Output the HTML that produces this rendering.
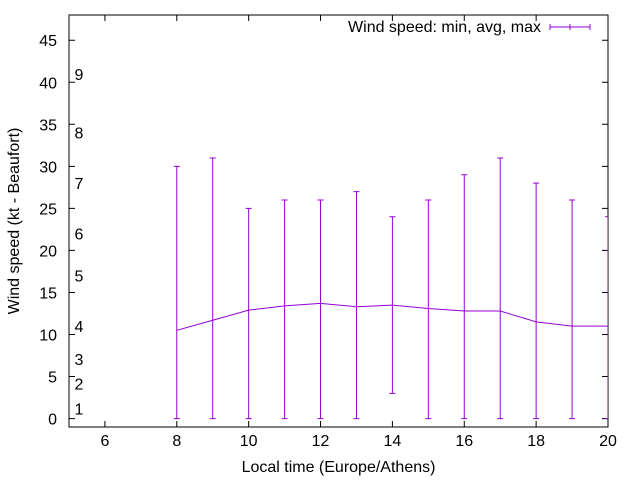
<!DOCTYPE html>
<html><head><meta charset="utf-8"><style>
body{margin:0;background:#fff}
svg{display:block;font-family:"Liberation Sans",sans-serif}
</style></head><body>
<svg id="chart" width="640" height="480" viewBox="0 0 640 480" xmlns="http://www.w3.org/2000/svg">
<g id="axes"></g><g id="marks"></g>
</svg>
<script>
const hours=[8,9,10,11,12,13,14,15,16,17,18,19,20];
const minVals=[0,0,0,0,0,0,3,0,0,0,0,0,0];
const avgVals=[10.5,11.7,12.9,13.4,13.7,13.3,13.5,13.1,12.8,12.8,11.5,11,11];
const maxVals=[30,31,25,26,26,27,24,26,29,31,28,26,24];
const xTicks=[6,8,10,12,14,16,18,20];
const yTicks=[0,5,10,15,20,25,30,35,40,45];
const beaufortLabels=["1","2","3","4","5","6","7","8","9"];
const beaufortKnots=[1.2,4.2,7.1,11,17,22,28,34,41];

const L=69,R=608,T=15,B=427,xMin=5,xMax=20,yMin=-1,yMax=48;
const NS="http://www.w3.org/2000/svg";
const X=v=>L+(v-xMin)/(xMax-xMin)*(R-L);
const Y=v=>B-(v-yMin)/(yMax-yMin)*(B-T);
const axes=document.getElementById('axes'),marks=document.getElementById('marks');
function mk(tag,attrs,parent,text){const e=document.createElementNS(NS,tag);for(const k in attrs)e.setAttribute(k,attrs[k]);if(text!==undefined)e.textContent=text;parent.appendChild(e);return e;}

const frame=mk('rect',{x:L,y:T,width:R-L,height:B-T,fill:'none',stroke:'#000','stroke-width':1},axes);


yTicks.forEach(v=>{
  const y=Y(v);
  const t=mk('path',{d:`M${L},${y}h6M${R},${y}h-6`,stroke:'#000'},axes);
  
  
  const lb=mk('text',{x:L-12,y:y+6,'text-anchor':'end','font-size':16,fill:'#000'},axes,String(v));
  
  
});
xTicks.forEach(v=>{
  const x=X(v);
  const t=mk('path',{d:`M${x},${B}v-6M${x},${T}v6`,stroke:'#000'},axes);
  
  
  const lb=mk('text',{x:x,y:B+19,'text-anchor':'middle','font-size':16,fill:'#000'},axes,String(v));
  
  
});
beaufortLabels.forEach((s,i)=>{
  const lb=mk('text',{x:79,y:Y(beaufortKnots[i])+6,'text-anchor':'middle','font-size':16,fill:'#000'},axes,s);
  
  
});
const xt=mk('text',{x:(L+R)/2,y:472,'text-anchor':'middle','font-size':16},axes,'Local time (Europe/Athens)');


const yt=mk('text',{x:0,y:0,'text-anchor':'middle','font-size':16,transform:`translate(19,${(T+B)/2}) rotate(-90)`},axes,'Wind speed (kt - Beaufort)');



const col='#9400d3';
const cp=mk('clipPath',{id:'clip'},marks);mk('rect',{x:L,y:T,width:R-L,height:B-T},cp);
const g=mk('g',{'clip-path':'url(#clip)'},marks);
hours.forEach((h,i)=>{
  const x=X(h),y1=Y(minVals[i]),y2=Y(maxVals[i]);
  const e=mk('path',{d:`M${x},${y1}V${y2}M${x-3},${y1}h6M${x-3},${y2}h6`,stroke:col,fill:'none'},g);
  
  
});
const line=mk('polyline',{points:hours.map((h,i)=>X(h)+','+Y(avgVals[i])).join(' '),fill:'none',stroke:col},g);



const lt=mk('text',{x:541,y:32,'text-anchor':'end','font-size':16},axes,'Wind speed: min, avg, max');


const ls=mk('path',{d:'M550,27H590M550,24v6M590,24v6M570,24v6',stroke:col,fill:'none'},axes);


</script>
</body></html>
